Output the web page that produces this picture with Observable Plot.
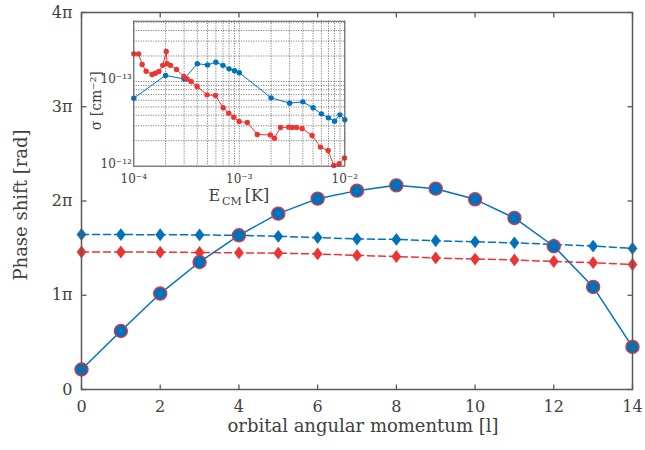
<!DOCTYPE html>
<html><head><meta charset="utf-8">
<script src="https://cdn.jsdelivr.net/npm/d3@7"></script>
<script src="https://cdn.jsdelivr.net/npm/@observablehq/plot@0.6"></script>
<style>
body{margin:0;background:#fff;}
#wrap{position:relative;width:645px;height:450px;overflow:hidden;}
#main{position:absolute;left:0;top:0;}
#inset{position:absolute;left:80px;top:0;}
svg{overflow:visible;}
</style></head><body>
<div id="wrap"><div id="main"></div><div id="inset"></div></div>
<script>
// ---- main chart data (phase shift in units of π) ----
const ell = [0,1,2,3,4,5,6,7,8,9,10,11,12,13,14];
const phaseCircle = [0.212,0.621,1.018,1.353,1.636,1.866,2.025,2.110,2.166,2.131,2.018,1.820,1.520,1.088,0.452];
const phaseDiamondBlue = [1.645,1.644,1.642,1.640,1.636,1.625,1.612,1.597,1.592,1.578,1.567,1.556,1.540,1.522,1.497];
const phaseDiamondRed = [1.459,1.459,1.457,1.454,1.450,1.446,1.438,1.423,1.411,1.396,1.384,1.375,1.358,1.346,1.326];
const xTicks = [0,2,4,6,8,10,12,14];
const yTicks = [0,1,2,3,4];
const yTickLabels = ["0","1π","2π","3π","4π"];

// ---- inset data (σ in units of the lowest labelled tick) ----
const energyBlue = [1e-4,2e-4,3e-4,4e-4,5e-4,6e-4,7e-4,8e-4,9e-4,1e-3,2e-3,3e-3,4e-3,5e-3,6e-3,7e-3,8e-3,9e-3,1e-2];
const sigmaBlue  = [6.35,11.8,10.7,16.2,15.7,16.9,15.5,14.1,13.4,12.7,6.41,5.55,5.75,4.89,4.15,3.72,3.40,4.04,3.53];
const energyRed = [1.0e-4,1.11e-4,1.2e-4,1.31e-4,1.49e-4,1.6e-4,1.73e-4,1.88e-4,2.03e-4,2.07e-4,2.23e-4,2.54e-4,2.98e-4,3.2e-4,3.49e-4,3.98e-4,4.95e-4,5.94e-4,7.03e-4,7.95e-4,8.87e-4,9.96e-4,1.19e-3,1.48e-3,1.97e-3,2.15e-3,2.46e-3,2.94e-3,3.16e-3,3.48e-3,3.94e-3,4.9e-3,5.89e-3,6.95e-3,7.87e-3,8.84e-3,9.93e-3];
const sigmaRed  = [21.2,21.2,15.9,13.2,12.1,12.5,13.1,15.5,22.6,16.2,15.5,13.9,11.5,10.7,10.0,8.73,6.96,6.83,4.89,4.23,3.79,3.37,3.28,2.37,2.34,2.14,2.86,2.89,2.86,2.86,2.79,2.30,1.68,1.53,1.02,1.07,1.25];
const insetXTicks = [1e-4,1e-3,1e-2];
const insetXTickLabels = ["10⁻⁴","10⁻³","10⁻²"];
const insetYTicks = [1,10];
const insetYTickLabels = ["10⁻¹²","10⁻¹³"];

const blue = "#0072BD", red = "#EE3333", axisGray = "#595959", textGray = "#404040";
const FONT = "DejaVu Serif";

const rows = ell.map((l,i)=>({l, c: phaseCircle[i], b: phaseDiamondBlue[i], r: phaseDiamondRed[i]}));
const diamond = {draw(ctx){ ctx.moveTo(0,-6.4); ctx.lineTo(4.9,0); ctx.lineTo(0,6.4); ctx.lineTo(-4.9,0); ctx.closePath(); }};
const tickMark = (dx,dy) => ({draw(ctx){ ctx.moveTo(0,0); ctx.lineTo(dx,dy); }});

const main = Plot.plot({
  width: 645, height: 450,
  marginLeft: 81, marginRight: 13, marginTop: 12, marginBottom: 61,
  style: {fontFamily: FONT, fontSize: "16px", color: textGray, background: "white"},
  x: {domain: [0,14], ticks: xTicks, tickSize: 0, tickPadding: 11, label: null},
  y: {domain: [0,4], ticks: yTicks, tickSize: 0, tickPadding: 9, label: null,
      tickFormat: d => yTickLabels[yTicks.indexOf(d)]},
  marks: [
    Plot.dot(xTicks, {x: d=>d, frameAnchor: "bottom", symbol: tickMark(0,-5), stroke: axisGray, strokeWidth: 1.3, fill: "none"}),
    Plot.dot(xTicks, {x: d=>d, frameAnchor: "top", symbol: tickMark(0,5), stroke: axisGray, strokeWidth: 1.3, fill: "none"}),
    Plot.dot(yTicks, {y: d=>d, frameAnchor: "left", symbol: tickMark(5,0), stroke: axisGray, strokeWidth: 1.3, fill: "none"}),
    Plot.dot(yTicks, {y: d=>d, frameAnchor: "right", symbol: tickMark(-5,0), stroke: axisGray, strokeWidth: 1.3, fill: "none"}),
    Plot.line(rows, {x:"l", y:"b", stroke: blue, strokeWidth: 1.5, strokeDasharray: "7,4"}),
    Plot.dot(rows, {x:"l", y:"b", symbol: diamond, fill: blue, stroke: "none"}),
    Plot.line(rows, {x:"l", y:"r", stroke: red, strokeWidth: 1.5, strokeDasharray: "7,4"}),
    Plot.dot(rows, {x:"l", y:"r", symbol: diamond, fill: red, stroke: "none"}),
    Plot.line(rows, {x:"l", y:"c", stroke: blue, strokeWidth: 1.5}),
    Plot.dot(rows, {x:"l", y:"c", r: 6.6, fill: blue, stroke: red, strokeWidth: 1.2}),
    Plot.frame({stroke: axisGray, strokeWidth: 1.5}),
    Plot.text(["orbital angular momentum [l]"], {frameAnchor: "bottom", textAnchor: "middle", dx: 6, dy: 42, fontSize: 18, fill: textGray}),
    Plot.text(["Phase shift [rad]"], {frameAnchor: "left", textAnchor: "middle", rotate: -90, dx: -60, dy: 4, fontSize: 18, fill: textGray})
  ]
});
document.getElementById("main").append(main);

const insetGridX = [1e-4, 1e-3].flatMap(d => [1,2,3,4,5,6,7,8,9].map(k => k*d)).concat([1e-2]);
const insetGridY = [1,2,3,4,5,6,7,8,9,10,20,30,40,50];
const blueRows = energyBlue.map((e,i)=>({e, s: sigmaBlue[i]}));
const redRows = energyRed.map((e,i)=>({e, s: sigmaRed[i]}));

const inset = Plot.plot({
  width: 280, height: 200,
  marginLeft: 53.3, marginRight: 15.7, marginTop: 20.7, marginBottom: 34.3,
  style: {fontFamily: FONT, fontSize: "12px", color: textGray, background: "transparent", overflow: "visible"},
  x: {type: "log", domain: [1e-4, 1e-2]},
  y: {type: "log", domain: [1, 51.5]},
  marks: [
    Plot.frame({fill: "white", stroke: "none"}),
    Plot.ruleX(insetGridX, {stroke: "#444", strokeDasharray: "1,1.5", strokeWidth: 0.8}),
    Plot.ruleY(insetGridY, {stroke: "#444", strokeDasharray: "1,1.5", strokeWidth: 0.8}),
    Plot.line(blueRows, {x: "e", y: "s", stroke: blue, strokeWidth: 1}),
    Plot.dot(blueRows, {x: "e", y: "s", r: 2.7, fill: blue, stroke: "none"}),
    Plot.line(redRows, {x: "e", y: "s", stroke: red, strokeWidth: 1}),
    Plot.dot(redRows, {x: "e", y: "s", r: 2.7, fill: red, stroke: "none"}),
    Plot.frame({stroke: axisGray, strokeWidth: 1}),
    Plot.axisX(insetXTicks, {tickSize: 0, tickPadding: 8, label: null,
      tickFormat: d => insetXTickLabels[insetXTicks.indexOf(d)]}),
    Plot.axisY(insetYTicks, {tickSize: 0, tickPadding: 2, dy: -2.5, label: null,
      tickFormat: d => insetYTickLabels[insetYTicks.indexOf(d)]}),
    Plot.text(["σ [cm⁻²]"], {frameAnchor: "left", textAnchor: "middle", rotate: -90, dx: -37, dy: 7, fontSize: 14, fill: textGray})
  ]
});
document.getElementById("inset").append(inset);

// x label of the inset with subscript
const lab = d3.select(inset).append("text")
  .attr("x", 158.8).attr("y", 201).attr("text-anchor", "middle")
  .attr("font-size", 16).attr("fill", textGray).attr("font-family", FONT);
lab.append("tspan").text("E");
lab.append("tspan").attr("font-size", 11).attr("dx", 2).attr("dy", 4).text("CM");
lab.append("tspan").attr("dx", 3).attr("dy", -4).text("[K]");
</script>
</body></html>
